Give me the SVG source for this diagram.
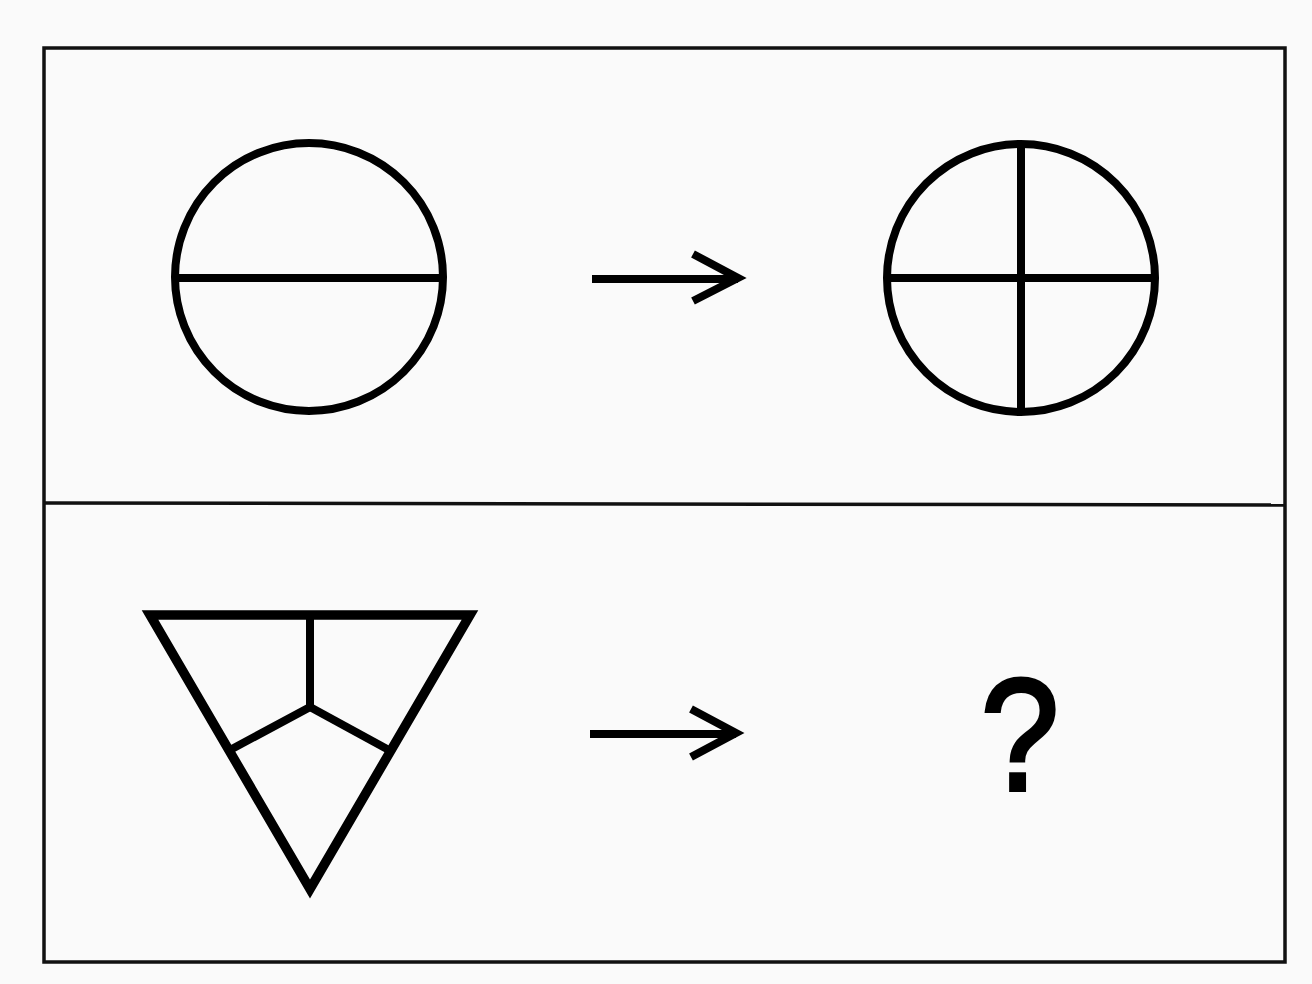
<svg xmlns="http://www.w3.org/2000/svg" width="1312" height="984" viewBox="0 0 1312 984">
<style>
.ln{fill:none;stroke:#000;stroke-width:8;stroke-linejoin:miter}
.tri{fill:none;stroke:#000;stroke-width:9.5;stroke-linejoin:miter}
.fr{fill:none;stroke:#111;stroke-width:3.5}
.q{font-family:"Liberation Sans",Arial,sans-serif;font-size:160px;fill:#000;stroke:#000;stroke-width:4;text-anchor:middle}
</style>
<rect width="1312" height="984" fill="#fafafa"/>
<g id="frame">
<rect class="fr" x="44" y="48" width="1241" height="914"/>
<line class="fr" x1="44" y1="503" x2="1285" y2="505"/>
</g>
<g id="circle-split">
<circle class="ln" cx="309" cy="277" r="134"/>
<line class="ln" x1="176" y1="278" x2="442" y2="278"/>
</g>
<g id="circle-cross">
<circle class="ln" cx="1021" cy="278" r="134"/>
<line class="ln" x1="888" y1="278" x2="1154" y2="278"/>
<line class="ln" x1="1021" y1="146" x2="1021" y2="410"/>
</g>
<g id="triangle">
<polygon class="tri" points="150,615 470,615 310,889"/>
<polyline class="ln" points="310,615 310,707 230,750"/>
<line class="ln" x1="310" y1="707" x2="387" y2="749"/>
</g>
<g id="question">
<text class="q" transform="translate(1020 790) scale(0.88 1)" x="0" y="0">?</text>
</g>
<g id="connectors">
<path class="ln" d="M592 279H738M693 254L738 278L693 301"/>
<path class="ln" d="M590 734H736M691 709L736 733L691 757"/>
</g>
</svg>
